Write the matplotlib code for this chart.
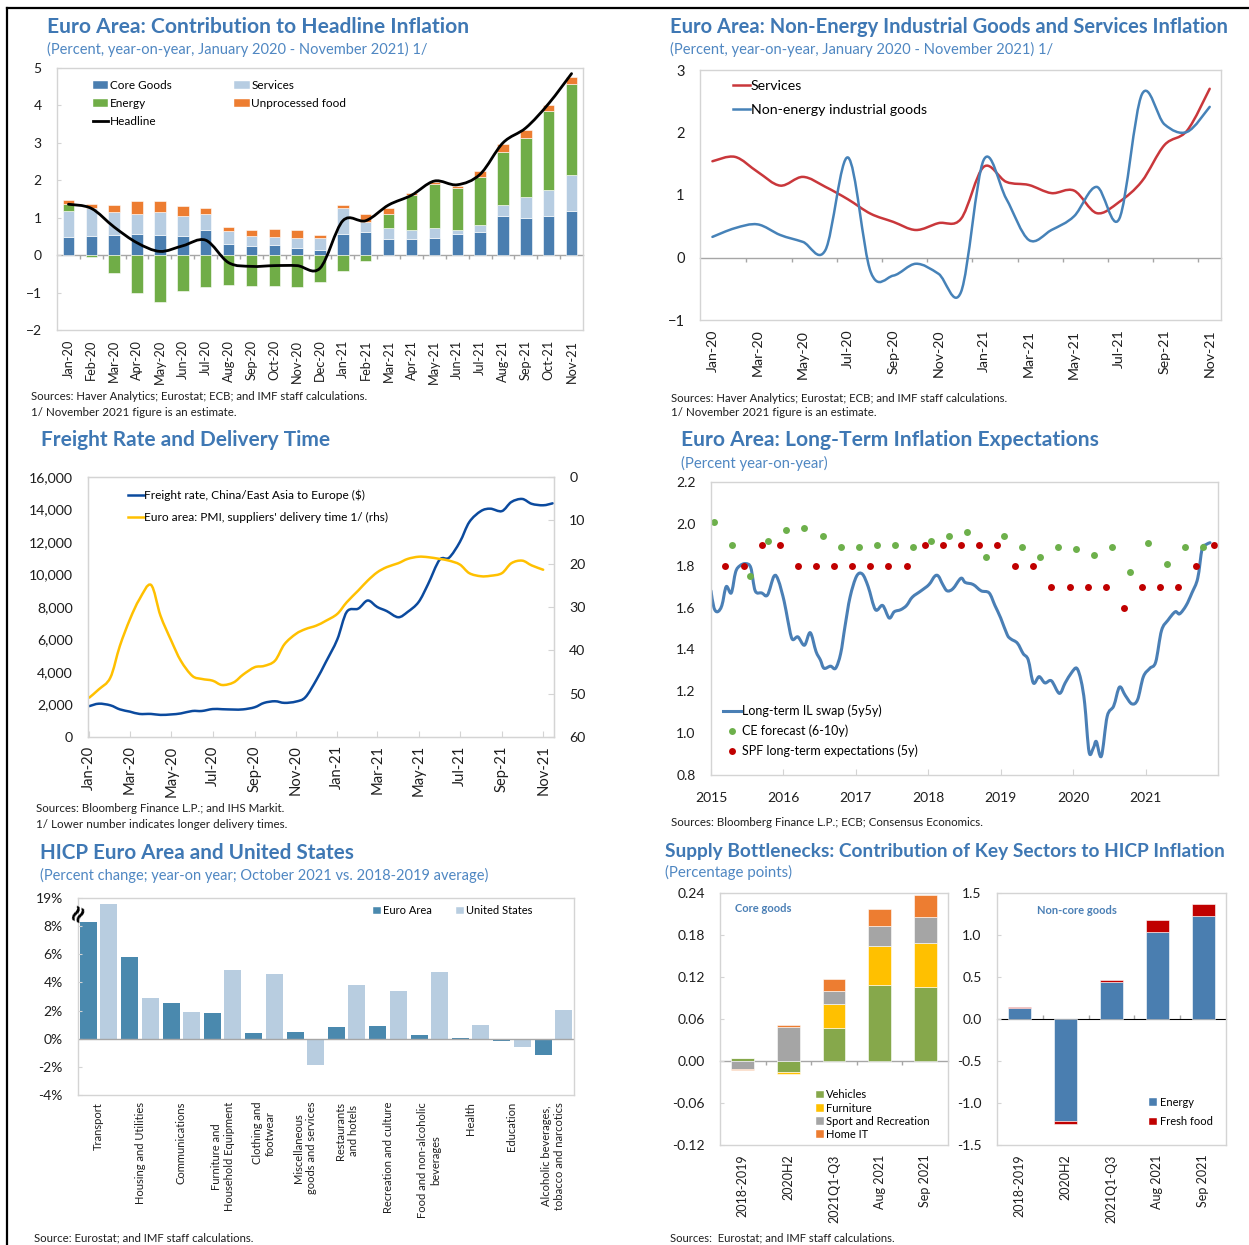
import matplotlib
matplotlib.use("Agg")
import matplotlib.pyplot as plt
import matplotlib.dates as mdates
import matplotlib.ticker as mticker
import numpy as np
import pandas as pd
from matplotlib.lines import Line2D
from matplotlib.patches import Patch, PathPatch
from matplotlib.path import Path

W, H = 1249, 1245
plt.rcParams["font.family"] = ["Lato", "DejaVu Sans"]

TITLE = "#3F78B4"
SUB = "#4F87C2"
FRAME = "#D4D4D4"
ZERO = "#A6A6A6"
TXT = "#1E1E1E"

# ---- panel 1: contribution to headline inflation
months = ["Jan-20", "Feb-20", "Mar-20", "Apr-20", "May-20", "Jun-20", "Jul-20",
          "Aug-20", "Sep-20", "Oct-20", "Nov-20", "Dec-20", "Jan-21", "Feb-21",
          "Mar-21", "Apr-21", "May-21", "Jun-21", "Jul-21", "Aug-21", "Sep-21",
          "Oct-21", "Nov-21"]
core_goods = [0.48, 0.50, 0.54, 0.56, 0.54, 0.50, 0.66, 0.29, 0.24, 0.26, 0.20, 0.13,
              0.56, 0.63, 0.42, 0.43, 0.45, 0.56, 0.63, 1.04, 1.00, 1.04, 1.18]
services = [0.70, 0.75, 0.62, 0.54, 0.61, 0.54, 0.45, 0.35, 0.27, 0.22, 0.27, 0.32,
            0.70, 0.26, 0.30, 0.25, 0.27, 0.10, 0.18, 0.31, 0.56, 0.70, 0.96]
energy = [0.19, -0.05, -0.48, -1.00, -1.24, -0.95, -0.85, -0.80, -0.83, -0.83, -0.84, -0.71,
          -0.42, -0.16, 0.39, 0.94, 1.17, 1.13, 1.29, 1.40, 1.56, 2.11, 2.44]
unprocessed_food = [0.10, 0.12, 0.17, 0.35, 0.30, 0.27, 0.14, 0.10, 0.15, 0.21, 0.19, 0.10,
                    0.08, 0.20, 0.15, 0.04, 0.07, 0.06, 0.15, 0.22, 0.22, 0.16, 0.18]
headline = [1.36, 1.25, 0.75, 0.33, 0.10, 0.25, 0.40, -0.20, -0.30, -0.28, -0.28, -0.35,
            0.92, 0.92, 1.34, 1.60, 1.98, 1.88, 2.16, 3.00, 3.40, 4.05, 4.85]

# ---- panel 2: NEIG and services inflation
services_infl = [1.54, 1.61, 1.37, 1.15, 1.29, 1.13, 0.93, 0.70, 0.57, 0.44, 0.55, 0.62,
                 1.45, 1.21, 1.16, 1.03, 1.07, 0.71, 0.89, 1.22, 1.80, 2.03, 2.70]
neig_infl = [0.33, 0.47, 0.53, 0.36, 0.25, 0.12, 1.60, -0.23, -0.29, -0.10, -0.26, -0.55,
             1.56, 0.94, 0.28, 0.44, 0.66, 1.13, 0.62, 2.61, 2.13, 2.01, 2.41]

# ---- panel 3: freight rate (semi-monthly) and PMI delivery times
freight_dates = pd.date_range("2020-01-01", periods=46, freq="SMS")
freight_rate = [1900, 2050, 1950, 1700, 1560, 1420, 1420, 1360, 1390, 1450, 1600, 1600,
                1720, 1710, 1690, 1700, 1830, 2100, 2200, 2100, 2180, 2450, 3500, 4600,
                6000, 7700, 7900, 8400, 8000, 7750, 7370, 7700, 8300, 9400, 10900, 11030,
                12000, 13230, 13900, 14050, 13900, 14460, 14650, 14350, 14260, 14380]
pmi_dates = pd.date_range("2020-01-01", periods=45, freq="SMS")
pmi_delivery = [50.9, 49.0, 46.3, 39.0, 32.8, 28.2, 24.9, 32.0, 37.8, 42.4, 45.9, 46.6,
                47.0, 48.0, 47.4, 45.6, 43.9, 43.6, 42.4, 38.6, 36.2, 35.1, 34.3, 33.2,
                31.6, 28.9, 26.2, 23.9, 22.0, 20.8, 19.9, 18.9, 18.4, 18.5, 18.9, 19.3,
                20.2, 22.2, 22.9, 22.8, 22.2, 19.9, 19.3, 20.4, 21.4]

# ---- panel 4: long-term inflation expectations (decimal years)
swap_years = [2015.00, 2015.04, 2015.09, 2015.15, 2015.21, 2015.28, 2015.34, 2015.40, 2015.48,
              2015.55, 2015.61, 2015.70, 2015.78, 2015.87, 2015.93, 2016.01, 2016.06, 2016.12,
              2016.20, 2016.29, 2016.37, 2016.45, 2016.51, 2016.56, 2016.65, 2016.72, 2016.79,
              2016.85, 2016.92, 2017.01, 2017.09, 2017.17, 2017.27, 2017.37, 2017.46, 2017.53,
              2017.62, 2017.70, 2017.78, 2017.90, 2018.01, 2018.09, 2018.14, 2018.20, 2018.26,
              2018.34, 2018.45, 2018.51, 2018.62, 2018.73, 2018.84, 2018.92, 2019.00, 2019.09,
              2019.14, 2019.23, 2019.31, 2019.38, 2019.45, 2019.53, 2019.61, 2019.70, 2019.81,
              2019.89, 2019.98, 2020.05, 2020.11, 2020.16, 2020.22, 2020.28, 2020.32, 2020.39,
              2020.47, 2020.56, 2020.64, 2020.72, 2020.81, 2020.89, 2020.97, 2021.06, 2021.14,
              2021.22, 2021.31, 2021.41, 2021.47, 2021.56, 2021.64, 2021.72, 2021.78, 2021.83,
              2021.89]
swap_5y5y = [1.68, 1.60, 1.58, 1.61, 1.70, 1.67, 1.77, 1.80, 1.81,
             1.79, 1.68, 1.67, 1.66, 1.75, 1.73, 1.63, 1.54, 1.45,
             1.46, 1.42, 1.48, 1.39, 1.35, 1.31, 1.32, 1.31, 1.38,
             1.51, 1.65, 1.75, 1.76, 1.70, 1.59, 1.61, 1.55, 1.58,
             1.59, 1.61, 1.65, 1.68, 1.71, 1.75, 1.75, 1.71, 1.68,
             1.69, 1.74, 1.72, 1.71, 1.68, 1.67, 1.61, 1.55, 1.47,
             1.45, 1.43, 1.38, 1.35, 1.24, 1.27, 1.24, 1.25, 1.19,
             1.24, 1.29, 1.31, 1.25, 1.14, 0.91, 0.93, 0.96, 0.89,
             1.08, 1.13, 1.22, 1.18, 1.14, 1.16, 1.27, 1.31, 1.34,
             1.49, 1.54, 1.58, 1.57, 1.61, 1.67, 1.74, 1.88, 1.90,
             1.91]
ce_years = [2015.04 + 0.25 * i for i in range(28)]
ce_forecast = [2.01, 1.90, 1.75, 1.92, 1.97, 1.98, 1.94, 1.89, 1.89, 1.90, 1.90, 1.89, 1.92, 1.94,
               1.96, 1.84, 1.94, 1.89, 1.84, 1.89, 1.88, 1.85, 1.89, 1.77, 1.91, 1.81, 1.89, 1.89]
spf_years = [2015.20 + 0.25 * i for i in range(28)]
spf_expect = [1.8, 1.8, 1.9, 1.9, 1.8, 1.8, 1.8, 1.8, 1.8, 1.8, 1.8, 1.9, 1.9, 1.9,
              1.9, 1.9, 1.8, 1.8, 1.7, 1.7, 1.7, 1.7, 1.6, 1.7, 1.7, 1.7, 1.8, 1.9]

# ---- panel 5: HICP euro area vs US (axis broken above 8%; US transport is 19%)
hicp_cats = ["Transport", "Housing and Utilities", "Communications",
             "Furniture and\nHousehold Equipment", "Clothing and\nfootwear",
             "Miscellaneous\ngoods and services", "Restaurants\nand hotels",
             "Recreation and culture", "Food and non-alcoholic\nbeverages", "Health",
             "Education", "Alcoholic beverages,\ntobacco and narcotics"]
hicp_ea = [8.28, 5.81, 2.54, 1.86, 0.42, 0.47, 0.82, 0.92, 0.24, 0.02, -0.16, -1.18]
hicp_us = [9.60, 2.89, 1.93, 4.87, 4.59, -1.88, 3.79, 3.36, 4.75, 0.99, -0.56, 2.02]
hicp_ticks = [-4, -2, 0, 2, 4, 6, 8, 10]
hicp_ticklabels = ["-4%", "-2%", "0%", "2%", "4%", "6%", "8%", "19%"]

# ---- panel 6: supply bottlenecks
periods = ["2018-2019", "2020H2", "2021Q1-Q3", "Aug 2021", "Sep 2021"]
vehicles = [0.004, -0.015, 0.047, 0.108, 0.106]
furniture = [0.001, -0.003, 0.035, 0.057, 0.063]
sport_recreation = [-0.012, 0.049, 0.018, 0.028, 0.037]
home_it = [-0.0015, 0.003, 0.017, 0.0235, 0.031]
energy_goods = [0.13, -1.22, 0.44, 1.03, 1.23]
fresh_food = [0.015, -0.025, 0.025, 0.15, 0.135]


fig = plt.figure(figsize=(W / 100, H / 100), dpi=100)
fig.patch.set_facecolor("white")
renderer = fig.canvas.get_renderer()


def add_ax(left, top, right, bottom):
    ax = fig.add_axes([left / W, 1 - bottom / H, (right - left) / W, (bottom - top) / H])
    for s in ax.spines.values():
        s.set_color(FRAME)
        s.set_linewidth(1.0)
    ax.tick_params(colors=FRAME, labelcolor=TXT, direction="in", length=3)
    return ax


def fit_text(x, y, s, width, **kw):
    t = fig.text(x / W, 1 - y / H, s, ha="left", va="center", fontsize=10, **kw)
    w = t.get_window_extent(renderer).width
    t.set_fontsize(10 * width / w)
    return t


def smooth_path(x, y):
    pts = np.column_stack([np.asarray(x, float), np.asarray(y, float)])
    ext = np.vstack([pts[0], pts, pts[-1]])
    verts, codes = [pts[0]], [Path.MOVETO]
    for i in range(len(pts) - 1):
        p0, p1, p2, p3 = ext[i], ext[i + 1], ext[i + 2], ext[i + 3]
        verts += [p1 + (p2 - p0) / 6, p2 - (p3 - p1) / 6, p2]
        codes += [Path.CURVE4] * 3
    return Path(verts, codes)


def smooth_line(ax, x, y, color, lw):
    ax.add_patch(PathPatch(smooth_path(x, y), fill=False, edgecolor=color, lw=lw,
                           capstyle="round", joinstyle="round"))
    return Line2D([], [], color=color, lw=lw)


def stack_bars(ax, x, series, colors, width):
    pos = np.zeros(len(x))
    neg = np.zeros(len(x))
    for vals, c in zip(series, colors):
        v = np.asarray(vals, float)
        ax.bar(x, v, width, bottom=np.where(v >= 0, pos, neg), color=c,
               edgecolor="white", linewidth=0.4)
        pos = np.where(v >= 0, pos + v, pos)
        neg = np.where(v < 0, neg + v, neg)


def zero_axis(ax, ticks):
    y0, y1 = ax.get_ylim()
    sec = ax.secondary_xaxis((0 - y0) / (y1 - y0))
    sec.set_xticks(ticks)
    sec.set_xticklabels([])
    sec.tick_params(length=3, color=ZERO, width=1)
    sec.spines["bottom"].set_color(ZERO)
    sec.spines["bottom"].set_linewidth(1.0)


def sq_handle(c):
    return Patch(facecolor=c, edgecolor="white", linewidth=0.3)


# ===================== panel 1
c_core, c_serv, c_energy, c_food = "#4A7EB0", "#B7CDE2", "#70AD47", "#ED7D31"
ax1 = add_ax(57, 68, 583, 330)
x1 = np.arange(len(months))
stack_bars(ax1, x1, [core_goods, services, energy, unprocessed_food],
           [c_core, c_serv, c_energy, c_food], 0.5)
h_head = smooth_line(ax1, x1, headline, "black", 2.0)
ax1.set_xlim(-0.5, len(months) - 0.5)
ax1.set_ylim(-2, 5)
ax1.set_yticks(range(-2, 6))
ax1.tick_params(axis="y", labelsize=10, pad=11)
ax1.set_xticks(x1)
ax1.set_xticklabels(months, rotation=90, fontsize=9.2)
ax1.tick_params(axis="x", length=0, pad=7)
zero_axis(ax1, x1[:-1] + 0.5)
ax1.legend([sq_handle(c_core), sq_handle(c_energy), h_head, sq_handle(c_serv), sq_handle(c_food)],
           ["Core Goods", "Energy", "Headline", "Services", "Unprocessed food"],
           loc="upper left", bbox_to_anchor=(0.068, 0.955), ncol=2, frameon=False,
           fontsize=8.5, handlelength=1.3, handleheight=0.65, handletextpad=0.15,
           labelspacing=0.62, columnspacing=5.3, borderpad=0, borderaxespad=0)

fit_text(47, 27, "Euro Area: Contribution to Headline Inflation", 421,
         color=TITLE, fontweight="bold")
fit_text(47, 49, "(Percent, year-on-year, January 2020 - November 2021) 1/", 381, color=SUB)
fit_text(31, 397, "Sources: Haver Analytics; Eurostat; ECB; and IMF staff calculations.", 335, color=TXT)
fit_text(31, 413, "1/ November 2021 figure is an estimate.", 205, color=TXT)

# ===================== panel 2
ax2 = add_ax(700, 70, 1221, 320)
h_serv = smooth_line(ax2, x1, services_infl, "#C9373B", 1.8)
h_neig = smooth_line(ax2, x1, neig_infl, "#4682B8", 1.8)
ax2.set_xlim(-0.55, 22.5)
ax2.set_ylim(-1, 3)
ax2.set_yticks(range(-1, 4))
ax2.tick_params(axis="y", labelsize=10.5, pad=11, length=0)
ax2.set_xticks(x1[::2])
ax2.set_xticklabels(months[::2], rotation=90, fontsize=10.2)
ax2.tick_params(axis="x", length=0, pad=7)
zero_axis(ax2, x1[1:-1:2] + 0.5)
ax2.legend([h_serv, h_neig], ["Services", "Non-energy industrial goods"],
           loc="upper left", bbox_to_anchor=(0.063, 0.96), frameon=False, fontsize=10.2,
           handlelength=1.2, handletextpad=0.05, labelspacing=0.85, borderpad=0, borderaxespad=0)

fit_text(670, 27, "Euro Area: Non-Energy Industrial Goods and Services Inflation", 561,
         color=TITLE, fontweight="bold")
fit_text(670, 49, "(Percent, year-on-year, January 2020 - November 2021) 1/", 382, color=SUB)
fit_text(671, 398, "Sources: Haver Analytics; Eurostat; ECB; and IMF staff calculations.", 336, color=TXT)
fit_text(671, 413, "1/ November 2021 figure is an estimate.", 205, color=TXT)

# ===================== panel 3
ax3 = add_ax(88, 477, 554, 737)
ax3r = ax3.twinx()
for s in ax3r.spines.values():
    s.set_color(FRAME)
fd = mdates.date2num(freight_dates)
pd_num = mdates.date2num(pmi_dates)
h_fr = smooth_line(ax3, fd, freight_rate, "#0B4A9E", 1.8)
h_pmi = smooth_line(ax3r, pd_num, pmi_delivery, "#FFC000", 1.8)
ax3.set_xlim(mdates.date2num(pd.Timestamp("2019-12-30")), mdates.date2num(pd.Timestamp("2021-11-17")))
ax3.set_ylim(0, 16000)
ax3.set_yticks(range(0, 16001, 2000))
ax3.yaxis.set_major_formatter(mticker.StrMethodFormatter("{x:,.0f}"))
ax3.tick_params(axis="y", labelsize=10.2, pad=11, length=0)
ax3r.set_ylim(60, 0)
ax3r.set_yticks(range(0, 61, 10))
ax3r.tick_params(axis="y", colors=FRAME, labelcolor=TXT, direction="in", length=4,
                 labelsize=10.2, pad=11)
ax3.xaxis.set_major_locator(mdates.MonthLocator(bymonth=[1, 3, 5, 7, 9, 11]))
ax3.xaxis.set_major_formatter(mdates.DateFormatter("%b-%y"))
ax3.tick_params(axis="x", length=4, pad=6, labelsize=10.6, labelrotation=90)
ax3r.legend([h_fr, h_pmi], ["Freight rate, China/East Asia to Europe ($)",
                            "Euro area: PMI, suppliers' delivery time 1/ (rhs)"],
            loc="upper left", bbox_to_anchor=(0.086, 0.952), frameon=False, fontsize=8.6,
            handlelength=1.3, handletextpad=0.05, labelspacing=0.95, borderpad=0, borderaxespad=0)

fit_text(41, 440, "Freight Rate and Delivery Time", 289, color=TITLE, fontweight="bold")
fit_text(36, 808, "Sources: Bloomberg Finance L.P.; and IHS Markit.", 249, color=TXT)
fit_text(36, 824, "1/ Lower number indicates longer delivery times.", 249, color=TXT)

# ===================== panel 4
ax4 = add_ax(711, 482, 1218, 775)
h_swap = smooth_line(ax4, swap_years, swap_5y5y, "#4A7FB5", 2.2)
ax4.plot(ce_years, ce_forecast, "o", color="#6DB04B", markersize=5, markeredgewidth=0)
ax4.plot(spf_years, spf_expect, "o", color="#C00000", markersize=5, markeredgewidth=0)
ax4.set_xlim(2015, 2022)
ax4.set_ylim(0.8, 2.2)
ax4.set_yticks(np.arange(0.8, 2.21, 0.2))
ax4.yaxis.set_major_formatter(mticker.FormatStrFormatter("%.1f"))
ax4.tick_params(axis="y", labelsize=10, pad=11, length=0)
ax4.set_xticks(range(2015, 2022))
ax4.tick_params(axis="x", labelsize=10, pad=12, length=4)
h_ce = Line2D([], [], ls="none", marker="o", color="#6DB04B", markersize=5, markeredgewidth=0)
h_spf = Line2D([], [], ls="none", marker="o", color="#C00000", markersize=5, markeredgewidth=0)
ax4.legend([h_swap, h_ce, h_spf],
           ["Long-term IL swap (5y5y)", "CE forecast (6-10y)", "SPF long-term expectations (5y)"],
           loc="lower left", bbox_to_anchor=(0.024, 0.06), frameon=False, fontsize=9,
           handlelength=1.4, handletextpad=0.1, labelspacing=0.6, borderpad=0, borderaxespad=0)

fit_text(681, 440, "Euro Area: Long-Term Inflation Expectations", 417, color=TITLE, fontweight="bold")
fit_text(681, 463, "(Percent year-on-year)", 147, color=SUB)
fit_text(671, 823, "Sources: Bloomberg Finance L.P.; ECB; Consensus Economics.", 311, color=TXT)

# ===================== panel 5
c_ea, c_us = "#4A89AE", "#B8CDE0"
ax5 = add_ax(78, 898, 574, 1095)
x5 = np.arange(len(hicp_cats))
ax5.bar(x5 - 0.245, hicp_ea, 0.41, color=c_ea, label="Euro Area")
ax5.bar(x5 + 0.245, hicp_us, 0.41, color=c_us, label="United States")
ax5.axhline(0, color=ZERO, lw=1.0)
ax5.set_xlim(-0.5, len(hicp_cats) - 0.5)
ax5.set_ylim(-4, 10)
ax5.set_yticks(hicp_ticks)
ax5.set_yticklabels(hicp_ticklabels)
ax5.tick_params(axis="y", labelsize=10, pad=11, length=3)
ax5.set_xticks(x5)
ax5.set_xticklabels(hicp_cats, rotation=90, va="top", ha="center", multialignment="center",
                    fontsize=8)
ax5.tick_params(axis="x", length=0, pad=5)
ax5.text(0.0, 9.0, "\u2248", transform=ax5.get_yaxis_transform(), rotation=65,
         ha="center", va="center", fontsize=17, fontweight="bold", color="black",
         family="DejaVu Sans", clip_on=False)
ax5.legend([sq_handle(c_ea), sq_handle(c_us)], ["Euro Area", "United States"],
           loc="upper left", bbox_to_anchor=(0.595, 0.962), ncol=2, frameon=False, fontsize=8,
           handlelength=0.7, handleheight=0.7, handletextpad=0.2, columnspacing=2.2,
           borderpad=0, borderaxespad=0)

fit_text(40, 853, "HICP Euro Area and United States", 314, color=TITLE, fontweight="bold")
fit_text(40, 875, "(Percent change; year-on year; October 2021 vs. 2018-2019 average)", 449, color=SUB)
fit_text(34, 1238, "Source: Eurostat; and IMF staff calculations.", 220, color=TXT)

# ===================== panel 6
c_veh, c_fur, c_sport, c_it = "#86A84B", "#FFC000", "#A5A5A5", "#ED7D31"
c_en, c_ff = "#4A7EB0", "#C00000"
x6 = np.arange(len(periods))

ax6a = add_ax(720, 893, 948, 1145)
stack_bars(ax6a, x6, [vehicles, furniture, sport_recreation, home_it],
           [c_veh, c_fur, c_sport, c_it], 0.5)
ax6a.set_xlim(-0.5, 4.5)
ax6a.set_ylim(-0.12, 0.24)
ax6a.set_yticks(np.arange(-0.12, 0.241, 0.06))
ax6a.yaxis.set_major_formatter(mticker.FormatStrFormatter("%.2f"))
ax6a.tick_params(axis="y", labelsize=10, pad=11, length=3)
ax6a.set_xticks(x6)
ax6a.set_xticklabels(periods, rotation=90, fontsize=9)
ax6a.tick_params(axis="x", length=0, pad=7)
zero_axis(ax6a, x6[:-1] + 0.5)
ax6a.text(0.066, 0.937, "Core goods", transform=ax6a.transAxes, ha="left", va="center",
          fontsize=8, fontweight="bold", color="#4A7FB5")
ax6a.legend([sq_handle(c) for c in (c_veh, c_fur, c_sport, c_it)],
            ["Vehicles", "Furniture", "Sport and Recreation", "Home IT"],
            loc="lower left", bbox_to_anchor=(0.42, 0.02), frameon=False, fontsize=8,
            handlelength=0.7, handleheight=0.7, handletextpad=0.25, labelspacing=0.2,
            borderpad=0, borderaxespad=0)

ax6b = add_ax(997, 893, 1226, 1145)
stack_bars(ax6b, x6, [energy_goods, fresh_food], [c_en, c_ff], 0.5)
ax6b.set_xlim(-0.5, 4.5)
ax6b.set_ylim(-1.5, 1.5)
ax6b.set_yticks(np.arange(-1.5, 1.51, 0.5))
ax6b.yaxis.set_major_formatter(mticker.FormatStrFormatter("%.1f"))
ax6b.tick_params(axis="y", labelsize=10, pad=11, length=3)
ax6b.set_xticks(x6)
ax6b.set_xticklabels(periods, rotation=90, fontsize=9)
ax6b.tick_params(axis="x", length=0, pad=7)
zero_axis(ax6b, x6[:-1] + 0.5)
ax6b.text(0.35, 0.93, "Non-core goods", transform=ax6b.transAxes, ha="center", va="center",
          fontsize=8, fontweight="bold", color="#4A7FB5")
ax6b.legend([sq_handle(c_en), sq_handle(c_ff)], ["Energy", "Fresh food"],
            loc="lower left", bbox_to_anchor=(0.665, 0.07), frameon=False, fontsize=8,
            handlelength=0.7, handleheight=0.7, handletextpad=0.25, labelspacing=0.75,
            borderpad=0, borderaxespad=0)

fit_text(665, 851, "Supply Bottlenecks: Contribution of Key Sectors to HICP Inflation", 563,
         color=TITLE, fontweight="bold")
fit_text(665, 872, "(Percentage points)", 128, color=SUB)
fit_text(670, 1238, "Sources:  Eurostat; and IMF staff calculations.", 226, color=TXT)

# page frame (top and left edges)
fig.add_artist(Line2D([7 / W, 1], [1 - 8 / H, 1 - 8 / H], color="black", lw=1.6))
fig.add_artist(Line2D([7 / W, 7 / W], [0, 1 - 8 / H], color="black", lw=1.6))

fig.savefig("out.png", dpi=100)
